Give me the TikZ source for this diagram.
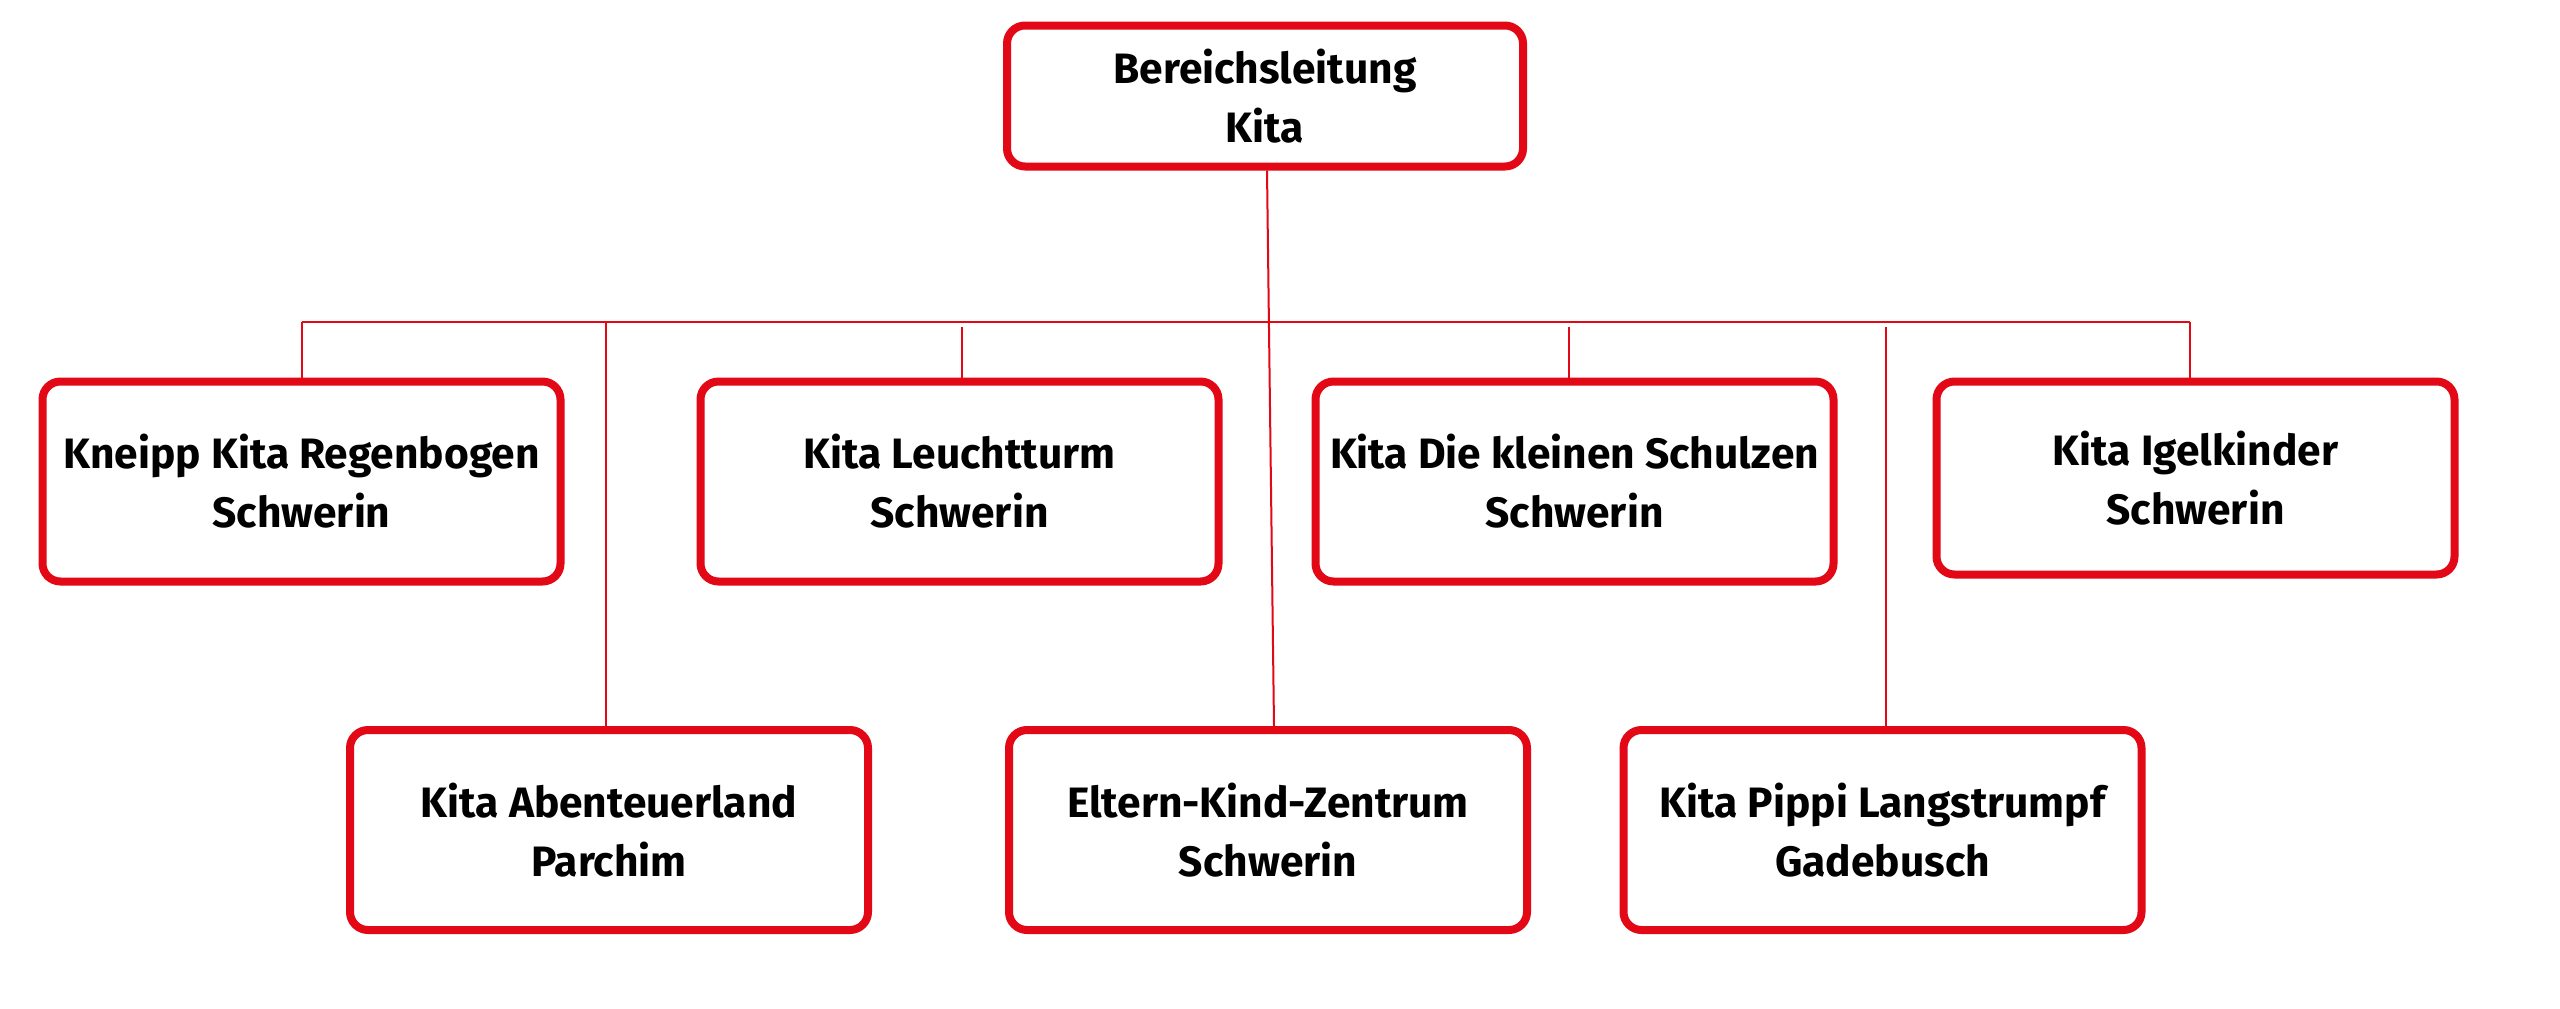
\documentclass[tikz,border=0pt]{standalone}
\usepackage{fontspec}
\setmainfont{Fira Sans}
\usetikzlibrary{calc}
\definecolor{kred}{RGB}{226,8,22}
\begin{document}
\begin{tikzpicture}[x=1pt,y=-1pt,
  box/.style={draw=kred,line width=8pt,rounded corners=18pt,fill=white,
    minimum width=518pt,minimum height=200pt,inner sep=0pt,align=center,
    font=\fontsize{42.5}{59}\selectfont\bfseries},
  conn/.style={draw=kred,line width=2pt}]
\useasboundingbox (0,0) rectangle (2560,1009);
\fill[white] (0,0) rectangle (2560,1009);

\node[box,minimum width=516pt,minimum height=141pt] (top) at (1265,96) {Bereichsleitung\\Kita};

\node[box] (kneipp) at (301.5,481.5) {Kneipp Kita Regenbogen\\Schwerin};
\node[box] (leucht) at (959.5,481.5) {Kita Leuchtturm\\Schwerin};
\node[box] (schulzen) at (1574.5,481.5) {Kita Die kleinen Schulzen\\Schwerin};
\node[box,minimum height=193pt] (igel) at (2195.5,478) {Kita Igelkinder\\Schwerin};

\node[box] (abent) at (609,830) {Kita Abenteuerland\\Parchim};
\node[box] (ekz) at (1268,830) {Eltern-Kind-Zentrum\\Schwerin};
\node[box] (pippi) at (1882.5,830) {Kita Pippi Langstrumpf\\Gadebusch};

\coordinate (busL) at (301.5,322);
\coordinate (busR) at (2190,322);
\coordinate (busA) at (606,322);
\coordinate (busB) at (962,327);
\coordinate (busC) at (1569,327);
\coordinate (busD) at (1886,327);

\draw[conn] (busL) -- (busR);
\draw[conn] (busL) -- (kneipp.north);
\draw[conn] (busA) -- (busA |- abent.north);
\draw[conn] (busB) -- (busB |- leucht.north);
\draw[conn] (busC) -- (busC |- schulzen.north);
\draw[conn] (busD) -- (busD |- pippi.north);
\draw[conn] (busR) -- (busR |- igel.north);
\draw[conn] ([xshift=2pt]top.south) -- ([xshift=6pt]ekz.north);
\end{tikzpicture}
\end{document}
